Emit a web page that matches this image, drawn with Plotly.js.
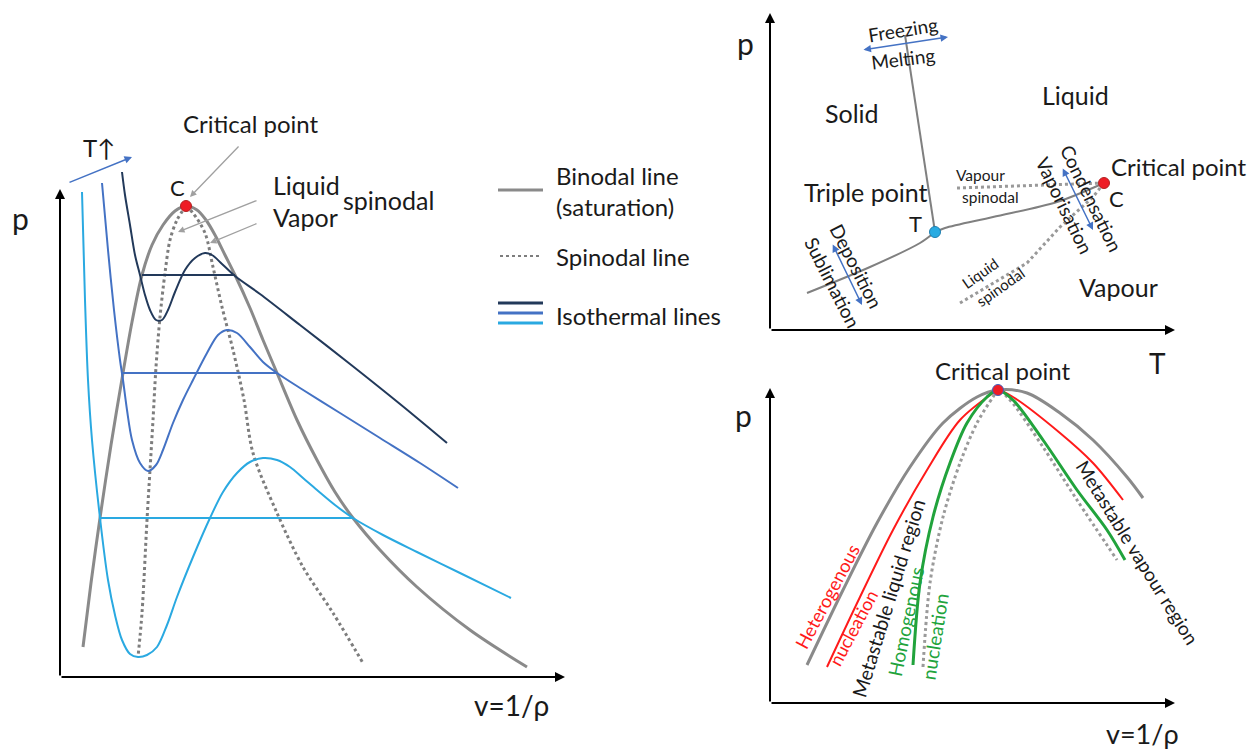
<!DOCTYPE html>
<html>
<head>
<meta charset="utf-8">
<script src="https://cdn.plot.ly/plotly-3.0.1.min.js"></script>
<style>html,body{margin:0;padding:0;background:#fff;}#chart{width:1255px;height:752px;}</style>
</head>
<body>
<div id="chart"></div>
<script>
// ---------- Left panel: p–v diagram (units: v, p) ----------
const binodalV = [23,31,40,51,63,72,82,92,103,115,126,137,146,155,165,175,190,203,217,237,257,275,293,320,357,410,467];
const binodalP = [30,94,159,232,304,355,402,432,452,466,471,467,457,442,422,402,369,337,304,257,217,185,159,127,90,47,10];

const spinLiqV = [126,117,110,105,100,96,93,90,87,82,78];
const spinLiqP = [471,457,437,404,360,310,257,207,157,64,20];
const spinVapV = [126,133,145,153,162,173,184,193,217,243,273,303];
const spinVapP = [471,464,444,410,370,327,277,224,164,110,64,14];

const iso1V = [62,65,70,75,80,85,90,96,102,108,115,125,135,145,152,162,175,200,240,290,340,387];
const iso1P = [505,482,452,422,402,382,367,357,357,367,385,407,419,424,422,413,401,383,352,313,273,234];
const tie1V = [82,175]; const tie1P = [402,402];

const iso2V = [42,48,54,60,63,67,72,80,88,96,103,113,123,133,147,158,167,177,190,203,217,240,280,320,360,398];
const iso2P = [494,427,367,317,297,267,237,214,206,212,227,254,277,297,324,342,347,344,330,315,304,289,264,239,214,189];
const tie2V = [63,217]; const tie2P = [304,304];

const iso3V = [22,25,28,32,40,48,55,62,70,78,87,97,107,117,133,150,163,177,190,203,217,230,243,257,275,293,323,357,400,451];
const iso3P = [485,377,297,237,159,97,62,37,23,20,22,30,52,80,120,159,185,204,215,219,217,210,199,187,172,159,142,125,104,79];
const tie3V = [40,293]; const tie3P = [159,159];

const critLeft = {v:[126], p:[471]};

// ---------- Top-right panel: p–T phase diagram (units: T, p) ----------
const sublT = [37,100,150,165];
const sublP = [37,63,87,98];
const meltT = [165,135];
const meltP = [98,295];
const vapT = [165,175,223,287,334];
const vapP = [98,102,113,128,147];
const vapSpinT = [187,334];
const vapSpinP = [142,147];
const liqSpinT = [190,257,290,323,334];
const liqSpinP = [27,67,103,133,147];
const tripleTP = {T:[165], p:[98]};
const critTP = {T:[334], p:[147]};

// ---------- Bottom-right panel: metastable regions (units: v, p) ----------
const b2V = [37,73,107,140,173,207,228,257,290,323,357,373];
const b2P = [38,113,180,236,280,306,313,310,290,263,226,205];
const hetV = [57,90,123,157,190,223,228,243,290,323,353];
const hetP = [36,106,173,233,283,310,313,306,270,240,203];
const homV = [143,150,163,180,197,217,228,243,273,307,337,355];
const homP = [38,120,186,240,280,306,313,303,263,213,173,143];
const sp2V = [153,160,173,190,207,223,228,240,273,307,347];
const sp2P = [36,120,186,240,280,306,313,303,256,203,143];
const crit2 = {v:[228], p:[313]};

// ---------- styles ----------
const GRAY = '#8a8a8a', DOT = '#7d7d7d';
const NAVY = '#22395a', BLUE = '#4472c4', LBLUE = '#2aa9e1';
const RED = '#ff1a1a', GREEN = '#21a33c';
const FONT = 'Lato, "Open Sans", sans-serif';
const W = 1255, H = 752;

function ln(x, y, ax, color, width, dash, spline) {
  return {x:x, y:y, xaxis:'x'+(ax===1?'':ax), yaxis:'y'+(ax===1?'':ax), type:'scatter', mode:'lines',
    line:{color:color, width:width, dash:dash||'solid', shape:spline?'spline':'linear', smoothing:0.9},
    hoverinfo:'skip', showlegend:false};
}
function dot(x, y, ax, color, outline) {
  return {x:x, y:y, xaxis:'x'+(ax===1?'':ax), yaxis:'y'+(ax===1?'':ax), type:'scatter', mode:'markers',
    marker:{color:color, size:11, line:{color:outline, width:1}}, hoverinfo:'skip', showlegend:false};
}

const traces = [
  ln(binodalV, binodalP, 1, GRAY, 3, 'solid', true),
  ln(spinLiqV, spinLiqP, 1, DOT, 3, 'dot', true),
  ln(spinVapV, spinVapP, 1, DOT, 3, 'dot', true),
  ln(iso1V, iso1P, 1, NAVY, 2, 'solid', true),
  ln(tie1V, tie1P, 1, NAVY, 2),
  ln(iso2V, iso2P, 1, BLUE, 2, 'solid', true),
  ln(tie2V, tie2P, 1, BLUE, 2),
  ln(iso3V, iso3P, 1, LBLUE, 2, 'solid', true),
  ln(tie3V, tie3P, 1, LBLUE, 2),
  dot(critLeft.v, critLeft.p, 1, '#ee1c25', '#b22222'),

  ln(sublT, sublP, 2, '#808080', 2, 'solid', true),
  ln(meltT, meltP, 2, '#808080', 2),
  ln(vapT, vapP, 2, '#808080', 2, 'solid', true),
  ln(vapSpinT, vapSpinP, 2, '#999999', 3, 'dot'),
  ln(liqSpinT, liqSpinP, 2, '#999999', 3, 'dot'),
  dot(tripleTP.T, tripleTP.p, 2, '#29abe2', '#1f7fb0'),
  dot(critTP.T, critTP.p, 2, '#ee1c25', '#b22222'),

  ln(b2V, b2P, 3, GRAY, 3, 'solid', true),
  ln(hetV, hetP, 3, RED, 2, 'solid', true),
  ln(sp2V, sp2P, 3, '#9a9a9a', 3, 'dot', true),
  ln(homV, homP, 3, GREEN, 3, 'solid', true),
  dot(crit2.v, crit2.p, 3, '#ee1c25', '#4060c0')
];

// ---------- annotations ----------
const ann = [];
function txt(px, py, text, size, opts) {
  opts = opts || {};
  ann.push(Object.assign({xref:'paper', yref:'paper', x:px/W, y:1-py/H, text:text, showarrow:false,
    xanchor:'center', yanchor:'middle', font:{family:FONT, size:size, color:opts.color||'#1a1a1a'}}, opts.extra||{},
    opts.angle!==undefined?{textangle:opts.angle}:{}));
}
function arrow(ax, x0, y0, x1, y1, color, width, both) {
  const s = ax===1?'':ax;
  ann.push({xref:'x'+s, yref:'y'+s, axref:'x'+s, ayref:'y'+s, x:x1, y:y1, ax:x0, ay:y0, text:'',
    showarrow:true, arrowhead:2, startarrowhead:2, arrowsize:1, startarrowsize:1, arrowwidth:width, arrowcolor:color,
    arrowside: both?'end+start':'end'});
}
const L = {extra:{xanchor:'left'}};

// axes arrows
arrow(1, 0, 0, 0, 488, '#000', 2);
arrow(1, 0, 0, 505, 0, '#000', 2);
arrow(2, 0, 0, 0, 317, '#000', 2);
arrow(2, 0, 0, 405, 0, '#000', 2);
arrow(3, 0, 0, 0, 315, '#000', 2);
arrow(3, 0, 0, 405, 0, '#000', 2);

// left panel arrows
arrow(1, 8, 494, 72, 520, BLUE, 1.5);
arrow(1, 180, 532, 130, 480, '#a0a0a0', 1.3);
arrow(1, 198, 477, 118, 445, '#a0a0a0', 1.3);
arrow(1, 198, 454, 150, 434, '#a0a0a0', 1.3);

// top-right arrows (double headed)
arrow(2, 92, 280, 178, 293, BLUE, 1.5, true);
arrow(2, 62, 87, 92, 25, BLUE, 1.5, true);
arrow(2, 292, 163, 323, 100, BLUE, 1.5, true);

// left panel text
txt(20, 218, 'p', 30);
txt(511, 705, 'v=1/ρ', 28);
txt(99, 148, 'T↑', 24);
txt(250, 123, 'Critical point', 24);
txt(177, 187, 'C', 22);
txt(271, 185, 'Liquid', 25, L);
txt(271, 217, 'Vapor', 25, L);
txt(341, 200, 'spinodal', 25, L);
txt(554, 175, 'Binodal line', 24, L);
txt(554, 207, '(saturation)', 24, L);
txt(554, 256, 'Spinodal line', 24, L);
txt(554, 315, 'Isothermal lines', 24, L);

// top-right text
txt(745, 43, 'p', 30);
txt(1157, 363, 'T', 28);
txt(903, 30, 'Freezing', 19, {angle:-9});
txt(903, 58, 'Melting', 19, {angle:-7});
txt(852, 113, 'Solid', 25);
txt(1075, 95, 'Liquid', 25);
txt(866, 192, 'Triple point', 25);
txt(915, 223, 'T', 22);
txt(980, 175, 'Vapour', 15.5);
txt(990, 197, 'spinodal', 15.5);
txt(1109, 167, 'Critical point', 24, L);
txt(1116, 198, 'C', 22);
txt(1092, 198, 'Condensation', 19, {angle:64});
txt(1065, 205, 'Vaporisation', 19, {angle:64});
txt(857, 266, 'Deposition', 19, {angle:63});
txt(833, 282, 'Sublimation', 19, {angle:63});
txt(980, 273, 'Liquid', 15, {angle:-35});
txt(1000, 287, 'spinodal', 15, {angle:-35});
txt(1118, 287, 'Vapour', 25);

// bottom-right text
txt(743, 415, 'p', 30);
txt(1142, 733, 'v=1/ρ', 27);
txt(1002, 370, 'Critical point', 24);
txt(827, 597, 'Heterogenous', 18.5, {angle:-62, color:RED});
txt(853, 628, 'nucleation', 18, {angle:-62, color:RED});
txt(888, 598, 'Metastable liquid region', 19.5, {angle:-73});
txt(905, 622, 'Homogenous', 19, {angle:-78, color:GREEN});
txt(934, 637, 'nucleation', 19, {angle:-81, color:GREEN});
txt(1138, 552, 'Metastable vapour region', 19, {angle:58});

// legend symbols (paper shapes)
function pl(x0, x1, py, color, width, dash) {
  return {type:'line', xref:'paper', yref:'paper', x0:x0/W, x1:x1/W, y0:1-py/H, y1:1-py/H,
    line:{color:color, width:width, dash:dash||'solid'}};
}
const shapes = [
  pl(498, 543, 190, GRAY, 3),
  pl(500, 542, 256, DOT, 2, 'dot'),
  pl(498, 543, 303, NAVY, 3),
  pl(498, 543, 313, BLUE, 3),
  pl(498, 543, 323, LBLUE, 3)
];

const hid = {visible:false, fixedrange:true, showgrid:false, zeroline:false};
const layout = {
  width:W, height:H, margin:{l:0, r:0, t:0, b:0}, paper_bgcolor:'#fff', plot_bgcolor:'rgba(0,0,0,0)',
  showlegend:false,
  xaxis: Object.assign({domain:[0, 760/W], range:[-60, 700]}, hid),
  yaxis: Object.assign({domain:[0, 1], range:[-75, 677]}, hid),
  xaxis2: Object.assign({domain:[760/W, 1], range:[-10, 485], anchor:'y2'}, hid),
  yaxis2: Object.assign({domain:[1-345/H, 1], range:[-15, 330], anchor:'x2'}, hid),
  xaxis3: Object.assign({domain:[760/W, 1], range:[-10, 485], anchor:'y3'}, hid),
  yaxis3: Object.assign({domain:[0, 1-345/H], range:[-49, 358], anchor:'x3'}, hid),
  annotations: ann,
  shapes: shapes
};
Plotly.newPlot('chart', traces, layout, {staticPlot:true, displayModeBar:false});
</script>
</body>
</html>
